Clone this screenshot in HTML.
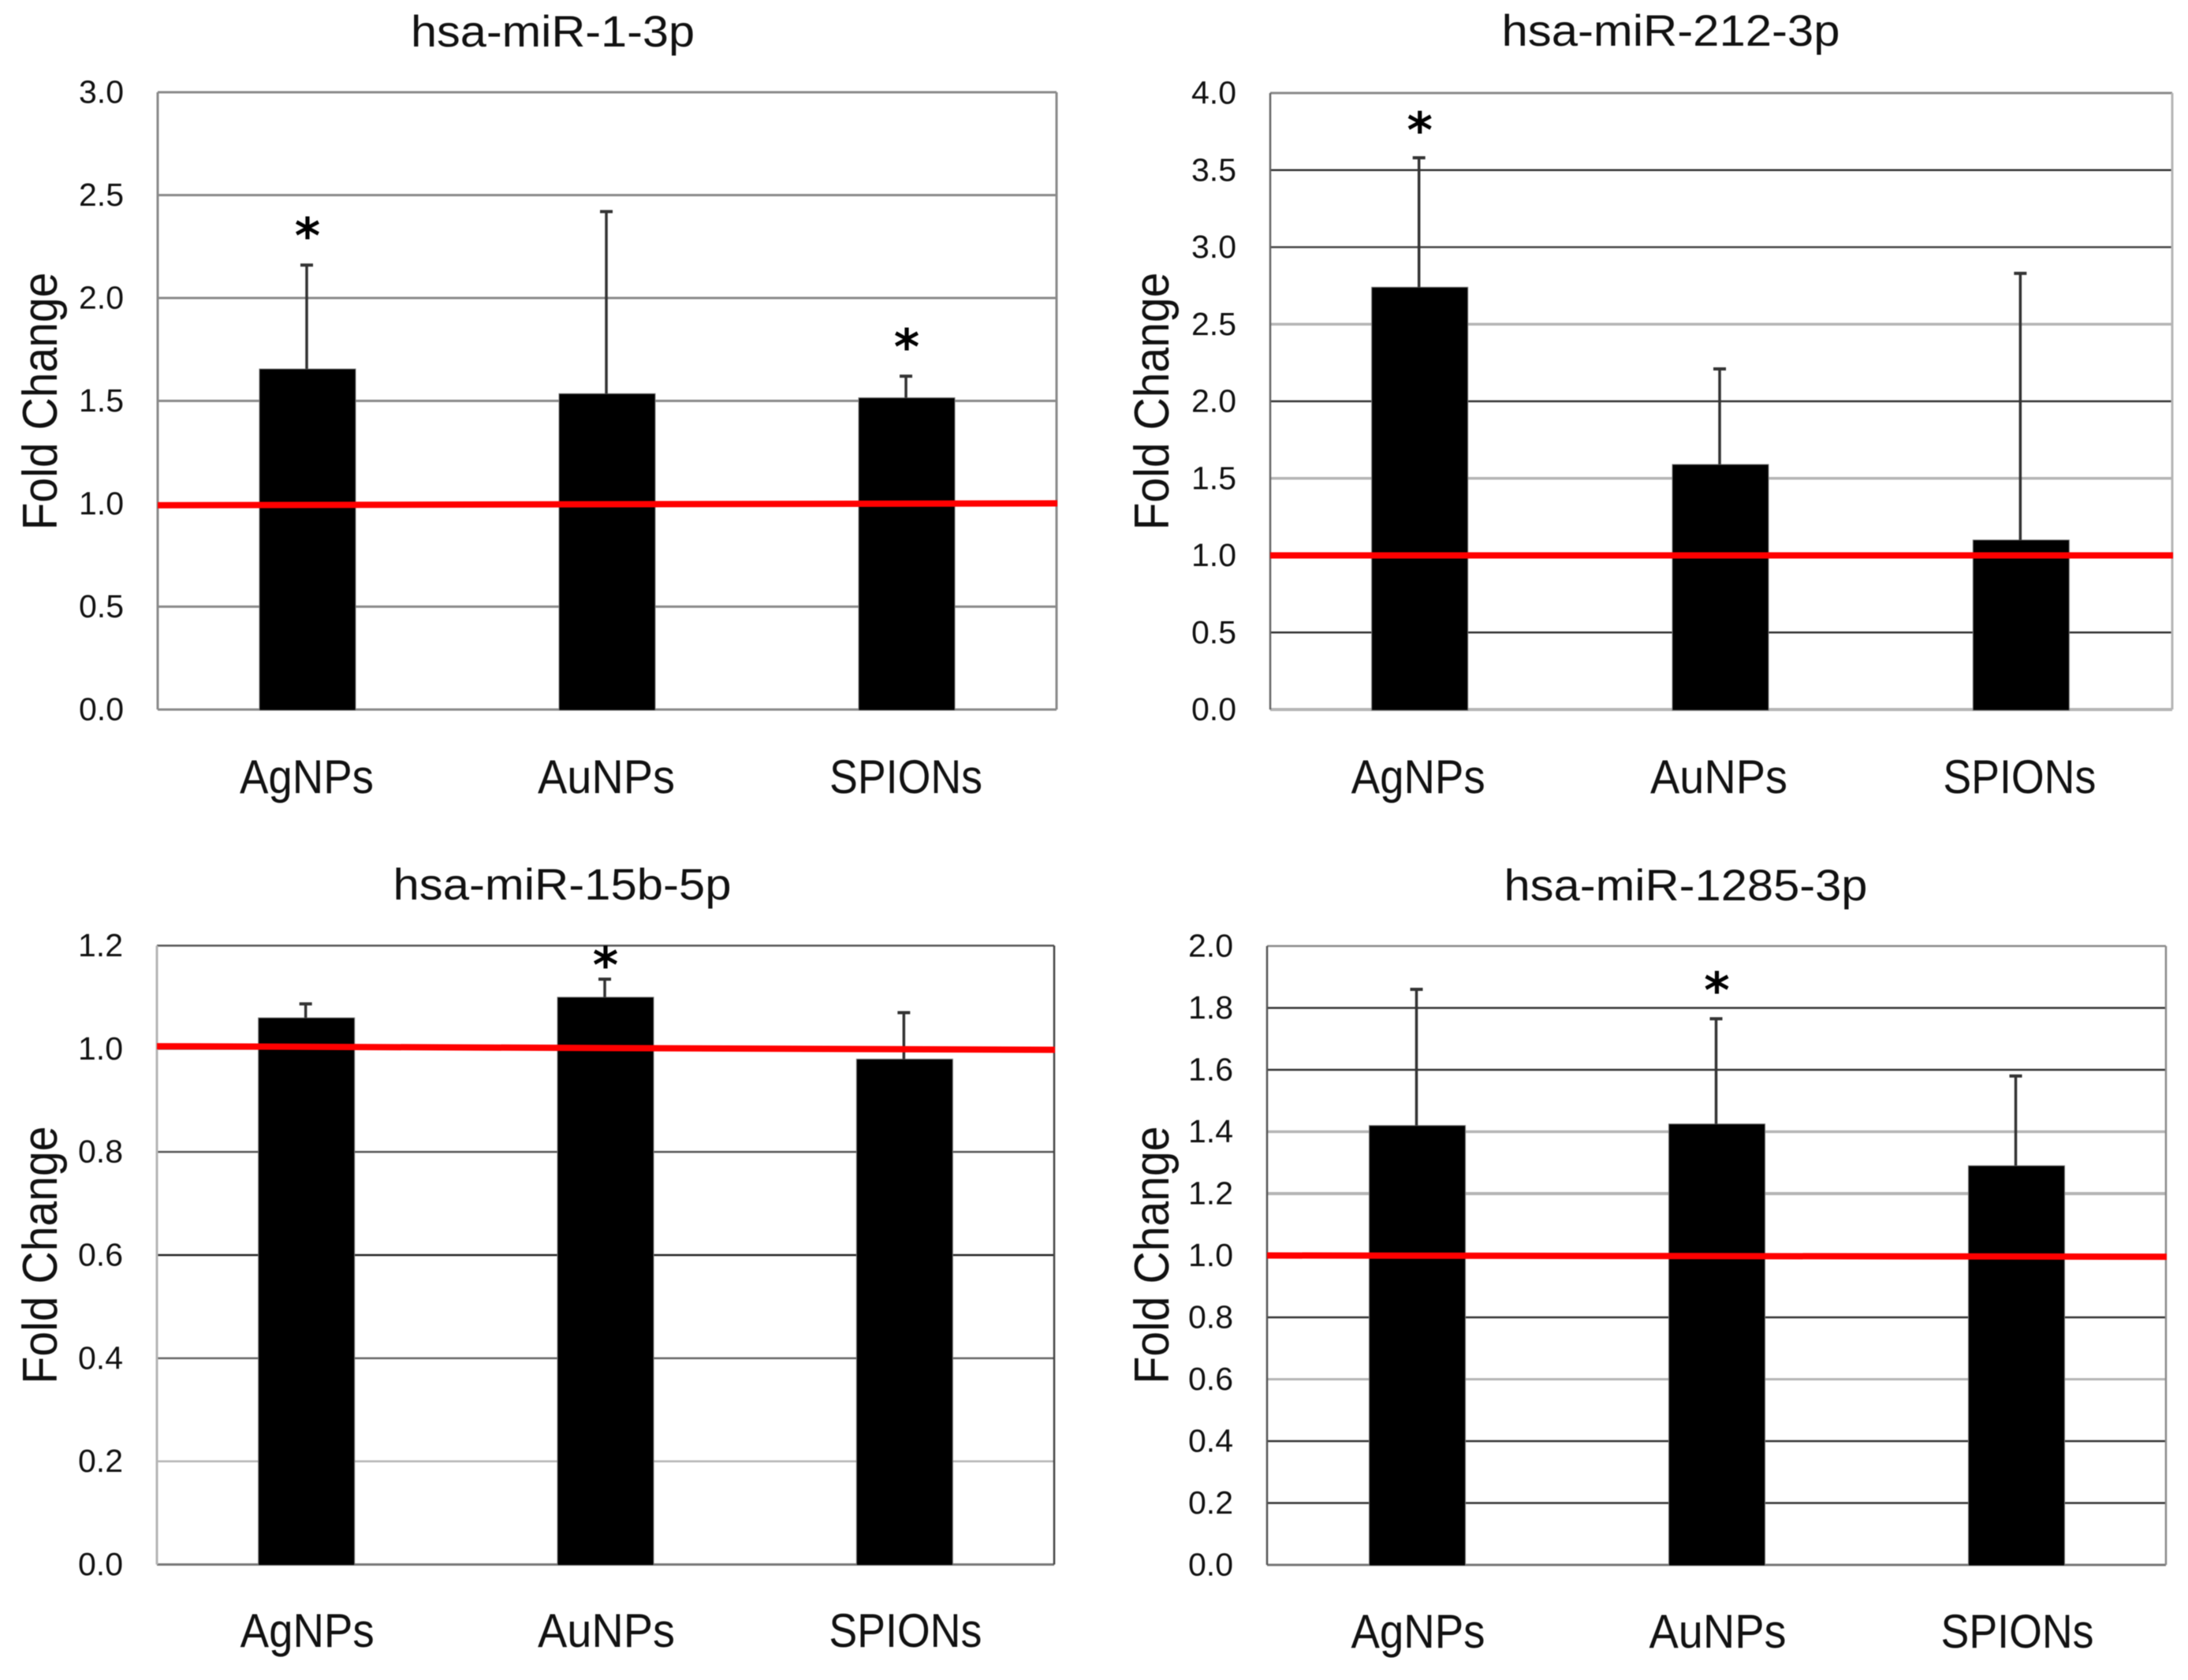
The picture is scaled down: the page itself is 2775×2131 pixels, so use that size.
<!DOCTYPE html>
<html lang="en">
<head>
<meta charset="utf-8">
<title>Fold change of miRNA expression by nanoparticle type</title>
<style>
  html, body { margin: 0; padding: 0; background: #fff; }
  body { width: 2775px; height: 2131px; overflow: hidden; }
  svg { display: block; filter: blur(0.5px); }
  text { font-family: "Liberation Sans", sans-serif; fill: #111; }
</style>
</head>
<body>
<svg id="figure" xmlns="http://www.w3.org/2000/svg" width="2775" height="2131" viewBox="0 0 2775 2131">
  <rect x="0" y="0" width="2775" height="2131" fill="#fff"/>
  <text x="701" y="59" font-size="56" text-anchor="middle" textLength="360" lengthAdjust="spacingAndGlyphs">hsa-miR-1-3p</text>
  <text x="2119" y="58" font-size="56" text-anchor="middle" textLength="429" lengthAdjust="spacingAndGlyphs">hsa-miR-212-3p</text>
  <text x="713" y="1141" font-size="56" text-anchor="middle" textLength="429" lengthAdjust="spacingAndGlyphs">hsa-miR-15b-5p</text>
  <text x="2138" y="1142" font-size="56" text-anchor="middle" textLength="461" lengthAdjust="spacingAndGlyphs">hsa-miR-1285-3p</text>
  <text transform="translate(72 509) rotate(-90)" font-size="62" text-anchor="middle" textLength="327" lengthAdjust="spacingAndGlyphs">Fold Change</text>
  <text transform="translate(1482 509) rotate(-90)" font-size="62" text-anchor="middle" textLength="327" lengthAdjust="spacingAndGlyphs">Fold Change</text>
  <text transform="translate(72 1592) rotate(-90)" font-size="62" text-anchor="middle" textLength="327" lengthAdjust="spacingAndGlyphs">Fold Change</text>
  <text transform="translate(1482 1592) rotate(-90)" font-size="62" text-anchor="middle" textLength="327" lengthAdjust="spacingAndGlyphs">Fold Change</text>
</svg>
<script>
// ---- data ----
const categories = ["AgNPs", "AuNPs", "SPIONs"];

const mir1Values = [1.655, 1.535, 1.515];
const mir1ErrorTops = [2.16, 2.42, 1.62];
const mir1Ticks = ["0.0", "0.5", "1.0", "1.5", "2.0", "2.5", "3.0"];
const mir1Significant = [true, false, true];
const mir1Reference = [0.993, 1.002];

const mir212Values = [2.74, 1.59, 1.10];
const mir212ErrorTops = [3.58, 2.21, 2.83];
const mir212Ticks = ["0.0", "0.5", "1.0", "1.5", "2.0", "2.5", "3.0", "3.5", "4.0"];
const mir212Significant = [true, false, false];
const mir212Reference = [1.0, 1.0];

const mir15bValues = [1.06, 1.10, 0.98];
const mir15bErrorTops = [1.087, 1.135, 1.07];
const mir15bTicks = ["0.0", "0.2", "0.4", "0.6", "0.8", "1.0", "1.2"];
const mir15bSignificant = [false, true, false];
const mir15bReference = [1.005, 0.998];

const mir1285Values = [1.42, 1.425, 1.29];
const mir1285ErrorTops = [1.86, 1.765, 1.58];
const mir1285Ticks = ["0.0", "0.2", "0.4", "0.6", "0.8", "1.0", "1.2", "1.4", "1.6", "1.8", "2.0"];
const mir1285Significant = [false, true, false];
const mir1285Reference = [1.0, 0.996];

// ---- rendering ----
const NS = "http://www.w3.org/2000/svg";
const svg = document.getElementById("figure");
const categoryTextWidth = { AgNPs: 170, AuNPs: 174, SPIONs: 194 };

function shape(tag, attrs) {
  const el = document.createElementNS(NS, tag);
  for (const k in attrs) el.setAttribute(k, attrs[k]);
  svg.appendChild(el);
  return el;
}

function drawPanel(key, plot, values, errorTops, ticks, significant, reference, look) {
  const yMax = parseFloat(ticks[ticks.length - 1]);
  const yMin = parseFloat(ticks[0]);
  const xBand = (plot.right - plot.left) / categories.length;
  const xScale = i => plot.left + xBand * (i + 0.5) + plot.shift;
  const yScale = v => plot.bottom - (v - yMin) / (yMax - yMin) * (plot.bottom - plot.top);

  ticks.forEach((label, i) => {
    const y = yScale(parseFloat(label));
    const g = look.grid[i];
    const line = shape("line", { x1: plot.left, x2: plot.right, y1: y, y2: y, stroke: g[0], "stroke-width": g[1] });
    
    
    const t = shape("text", { x: plot.left - 43, y: y + 13.5, "font-size": 41, "text-anchor": "end" });
    t.textContent = label;
    
    
  });

  const borderLeft = shape("line", { x1: plot.left, x2: plot.left, y1: plot.top, y2: plot.bottom, stroke: look.left[0], "stroke-width": look.left[1] });
  
  
  const borderRight = shape("line", { x1: plot.right, x2: plot.right, y1: plot.top, y2: plot.bottom, stroke: look.right[0], "stroke-width": look.right[1] });
  
  

  categories.forEach((cat, i) => {
    const cx = xScale(i);
    const bar = shape("rect", { x: cx - 61, y: yScale(values[i]), width: 122, height: yScale(0) - yScale(values[i]) + 1, fill: "#000", stroke: "#777", "stroke-width": 1 });
    
    

    const stem = shape("line", { x1: cx - 1, x2: cx - 1, y1: yScale(values[i]), y2: yScale(errorTops[i]), stroke: "#333", "stroke-width": 3.5 });
    
    
    const cap = shape("line", { x1: cx - 9, x2: cx + 7, y1: yScale(errorTops[i]), y2: yScale(errorTops[i]), stroke: "#333", "stroke-width": 4 });
    
    

    if (significant[i]) {
      const star = shape("text", { x: cx, y: yScale(errorTops[i]) - look.starGap + 31, "font-size": 62, "font-weight": "bold", "text-anchor": "middle", style: "font-family:'DejaVu Sans',sans-serif;fill:#000" });
      star.textContent = "*";
      
      
    }

    const label = shape("text", { x: cx - plot.labelShift, y: plot.labelY, "font-size": 60, "text-anchor": "middle", textLength: categoryTextWidth[cat], lengthAdjust: "spacingAndGlyphs" });
    label.textContent = cat;
    
    
  });

  const refLine = shape("line", { x1: plot.left, x2: plot.right + 1, y1: yScale(reference[0]), y2: yScale(reference[1]), stroke: "#f00", "stroke-width": 8 });
  
  
}

const G = "#8a8a8a", D = "#333", L = "#b5b5b5";

drawPanel("mir-1-3p",
  { left: 200, right: 1340, top: 117, bottom: 900, labelY: 1006, shift: 0, labelShift: 1 },
  mir1Values, mir1ErrorTops, mir1Ticks, mir1Significant, mir1Reference,
  { grid: [[G, 3], [G, 3], [G, 3], [G, 3], [G, 3], [G, 3], [G, 3]], left: [G, 3], right: [G, 3], starGap: 46 });

drawPanel("mir-212-3p",
  { left: 1611, right: 2755, top: 118, bottom: 900, labelY: 1006, shift: -1, labelShift: 2 },
  mir212Values, mir212ErrorTops, mir212Ticks, mir212Significant, mir212Reference,
  { grid: [[L, 4], [D, 2.5], [D, 2.5], [L, 3.5], [D, 2.5], [L, 3.5], ["#444", 2.5], [D, 2.5], [G, 3]], left: ["#666", 2.5], right: [L, 3], starGap: 44 });

drawPanel("mir-15b-5p",
  { left: 199, right: 1337, top: 1199.5, bottom: 1984.5, labelY: 2089, shift: 0, labelShift: -1 },
  mir15bValues, mir15bErrorTops, mir15bTicks, mir15bSignificant, mir15bReference,
  { grid: [["#777", 3], [L, 2.5], ["#666", 2.5], ["#222", 2.5], ["#555", 2.5], ["#666", 2.5], ["#555", 2.5]], left: [L, 3], right: ["#444", 2.5], starGap: 27 });

drawPanel("mir-1285-3p",
  { left: 1607, right: 2747, top: 1200, bottom: 1985, labelY: 2090, shift: 0.5, labelShift: -1 },
  mir1285Values, mir1285ErrorTops, mir1285Ticks, mir1285Significant, mir1285Reference,
  { grid: [["#777", 3], [D, 2.5], [D, 2.5], [L, 3], [D, 2.5], [D, 2.5], [L, 4], [L, 3.5], [D, 2.5], [D, 2.5], [G, 2.5]], left: ["#555", 2.5], right: [G, 2.5], starGap: 45 });
</script>
</body>
</html>
